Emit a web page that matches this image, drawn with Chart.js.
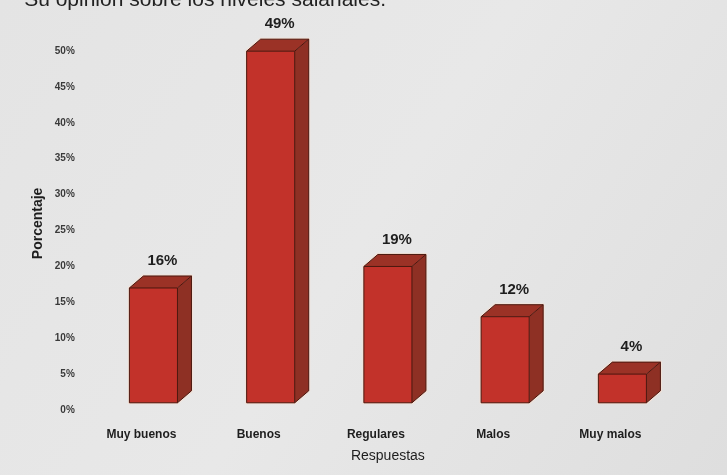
<!DOCTYPE html>
<html>
<head>
<meta charset="utf-8">
<script src="https://cdn.jsdelivr.net/npm/chart.js@4"></script>
<style>
  html, body { margin: 0; padding: 0; background: #e2e2e2; }
  #wrap { width: 727px; height: 475px; }
</style>
</head>
<body>
<div id="wrap"><canvas id="chart" width="727" height="475"></canvas></div>
<script>
// Data
var categories = ["Muy buenos", "Buenos", "Regulares", "Malos", "Muy malos"];
var values = [16, 49, 19, 12, 4];
var valueLabels = ["16%", "49%", "19%", "12%", "4%"];
var yTicks = [0, 5, 10, 15, 20, 25, 30, 35, 40, 45, 50];
var chartTitle = "Su opinión sobre los niveles salariales.";

// 3D depth of the bars
var depthX = 14, depthY = 12;

// Background (photo-like grey) and the clipped heading
var background = {
    id: "background",
    beforeDraw: function (chart) {
        var c = chart.ctx;
        var g = c.createLinearGradient(0, 0, chart.width, chart.height);
        g.addColorStop(0, "#e4e4e4");
        g.addColorStop(0.5, "#e8e8e8");
        g.addColorStop(1, "#dedede");
        c.save();
        c.fillStyle = g;
        c.fillRect(0, 0, chart.width, chart.height);
        c.font = "21px Arial, 'Liberation Sans', sans-serif";
        c.fillStyle = "#222";
        c.textAlign = "right";
        c.textBaseline = "alphabetic";
        c.fillText(chartTitle, 386, 6);
        c.restore();
    }
};

// Side and top faces + value labels
var bars3d = {
    id: "bars3d",
    afterDatasetsDraw: function (chart) {
        var c = chart.ctx;
        var meta = chart.getDatasetMeta(0);
        c.save();
        meta.data.forEach(function (bar, i) {
            var p = bar.getProps(["x", "y", "base", "width"], true);
            var l = p.x - p.width / 2, r = p.x + p.width / 2;
            var t = p.y, b = p.base;
            var outline = function () {
                c.beginPath();
                c.moveTo(l, b);
                c.lineTo(l, t);
                c.lineTo(l + depthX, t - depthY);
                c.lineTo(r + depthX, t - depthY);
                c.lineTo(r + depthX, b - depthY);
                c.lineTo(r, b);
                c.closePath();
            };
            c.lineJoin = "round";
            // light halo
            outline();
            c.lineWidth = 3;
            c.strokeStyle = "#f2e2d8";
            c.stroke();
            // side
            c.beginPath();
            c.moveTo(r, t);
            c.lineTo(r + depthX, t - depthY);
            c.lineTo(r + depthX, b - depthY);
            c.lineTo(r, b);
            c.closePath();
            c.fillStyle = "#8e3024";
            c.fill();
            // top
            c.beginPath();
            c.moveTo(l, t);
            c.lineTo(l + depthX, t - depthY);
            c.lineTo(r + depthX, t - depthY);
            c.lineTo(r, t);
            c.closePath();
            c.fillStyle = "#9b3226";
            c.fill();
            // front
            c.fillStyle = "#c2322a";
            c.fillRect(l, t, p.width, b - t);
            // edges
            c.lineWidth = 1;
            c.strokeStyle = "#4a170e";
            outline();
            c.stroke();
            c.beginPath();
            c.moveTo(l, t); c.lineTo(r, t); c.lineTo(r, b);
            c.moveTo(r, t); c.lineTo(r + depthX, t - depthY);
            c.stroke();
            // value label
            c.font = "bold 15px Arial, 'Liberation Sans', sans-serif";
            c.fillStyle = "#1e1e1e";
            c.textAlign = "center";
            c.textBaseline = "middle";
            c.fillText(valueLabels[i], p.x + 9, t - depthY - 15);
        });
        c.restore();
    }
};

var ctx = document.getElementById("chart").getContext("2d");
var myChart = new Chart(ctx, {
    type: "bar",
    data: {
        labels: categories,
        datasets: [{
            data: values,
            backgroundColor: "#c2322a",
            borderWidth: 0,
            categoryPercentage: 1,
            barPercentage: 0.41
        }]
    },
    options: {
        responsive: false,
        animation: false,
        layout: { padding: { top: 44, right: 46, left: 30, bottom: 10 } },
        plugins: {
            legend: { display: false },
            tooltip: { enabled: false }
        },
        scales: {
            x: {
                grid: { display: false, drawTicks: false },
                border: { display: false },
                ticks: {
                    color: "#1e1e1e",
                    font: { family: "Arial, 'Liberation Sans', sans-serif", size: 12, weight: "bold" },
                    padding: 25,
                    labelOffset: -12,
                    maxRotation: 0
                },
                title: {
                    display: true,
                    text: "Respuestas",
                    color: "#1e1e1e",
                    font: { family: "Arial, 'Liberation Sans', sans-serif", size: 14 },
                    padding: { top: -19, bottom: 0 }
                }
            },
            y: {
                min: 0,
                max: 50,
                afterBuildTicks: function (axis) {
                    axis.ticks = yTicks.map(function (v) { return { value: v }; });
                },
                grid: { display: false, drawTicks: false },
                border: { display: false },
                ticks: {
                    color: "#3a3a3a",
                    font: { family: "Arial, 'Liberation Sans', sans-serif", size: 10, weight: "bold" },
                    padding: 20,
                    labelOffset: 7,
                    callback: function (v) { return v + "%"; }
                },
                title: {
                    display: true,
                    text: "Porcentaje",
                    color: "#1e1e1e",
                    font: { family: "Arial, 'Liberation Sans', sans-serif", size: 14, weight: "bold" },
                    padding: { top: 0, bottom: -12 }
                }
            }
        }
    },
    plugins: [background, bars3d]
});
</script>
</body>
</html>
